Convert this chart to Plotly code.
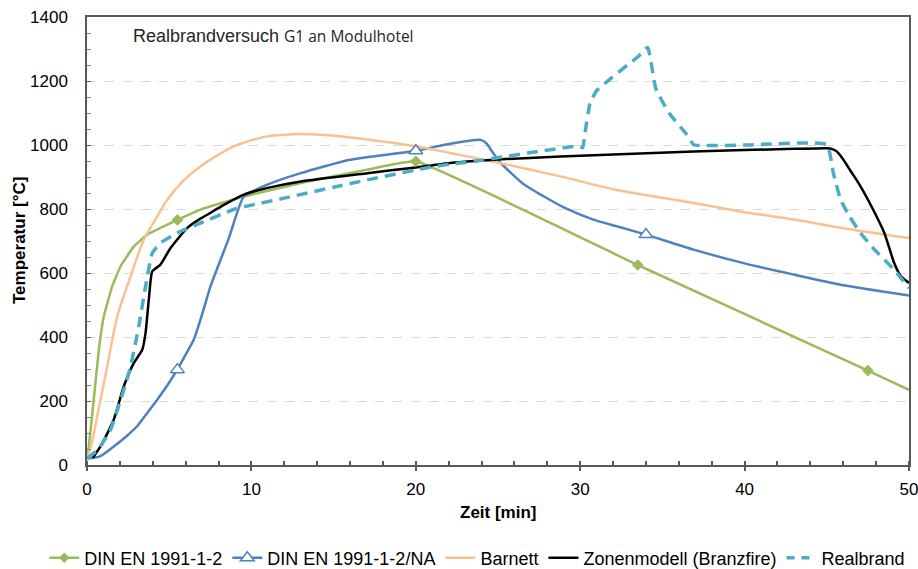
import plotly.graph_objects as go

# ---------------- data ----------------
t_din = [0, 0.11, 0.41, 0.72, 1.02, 1.53, 2.04, 2.85, 3.66, 4.67, 5.5, 6.9, 9.54, 13, 17.05, 20, 33.5, 47.5, 50]
T_din = [20, 58, 204, 360, 464, 558, 621, 683, 720, 746, 766, 798, 839, 881, 923, 949, 625, 295, 235]
t_din_mk = [5.5, 20, 33.5, 47.5]
T_din_mk = [766, 949, 625, 295]

t_na = [0, 0.8, 1.63, 2.4, 3.05, 3.7, 4.27, 4.9, 5.49, 6.0, 6.5, 7.0, 7.51, 8.63, 9.54, 10.97, 13, 16, 20, 22.1, 23.95, 24.3, 24.7, 25.16, 25.8, 26.5, 27.8, 29, 30.8, 32.5, 34, 36.9, 40, 43, 46, 50]
T_na = [20, 27, 58, 90, 121, 165, 204, 250, 298, 345, 392, 470, 558, 709, 839, 876, 912, 954, 982, 1004, 1016, 1005, 975, 944, 912, 880, 839, 805, 767, 742, 720, 673, 630, 595, 562, 530]
t_na_mk = [5.5, 20, 34]
T_na_mk = [298, 982, 720]

t_bar = [0, 0.3, 0.62, 1.23, 1.84, 2.65, 3.45, 4.2, 4.88, 5.9, 6.9, 8, 8.93, 10, 10.96, 12, 13, 15, 18, 20, 22.1, 25, 28.8, 32, 36.9, 40, 43, 46, 50]
T_bar = [20, 70, 152, 308, 464, 589, 704, 770, 829, 890, 933, 970, 996, 1015, 1027, 1032, 1034, 1029, 1011, 996, 975, 945, 902, 862, 819, 790, 767, 740, 709]

t_zone = [0.35, 0.82, 1.2, 1.63, 2.24, 2.85, 3.36, 3.56, 3.76, 3.97, 4.47, 5.08, 6.1, 6.9, 7.31, 8.3, 9.54, 11, 13, 17.05, 20, 22.1, 25, 28.8, 32, 36.9, 40, 43, 45.0, 45.3, 45.6, 46.0, 46.5, 47.05, 47.8, 48.5, 49.1, 49.5, 50]
T_zone = [22, 58, 95, 142, 246, 319, 360, 412, 517, 605, 626, 678, 741, 770, 782, 812, 845, 866, 886, 912, 930, 944, 955, 964, 970, 980, 984, 988, 990, 988, 980, 955, 915, 871, 800, 725, 631, 590, 569]

t_real = [0, 0.7, 1.43, 2.24, 2.65, 3.15, 3.56, 3.97, 4.47, 5.69, 6.9, 9.0, 12, 15, 17.05, 20, 21.1, 22.7, 24, 26.8, 29.8, 30.15, 30.3, 30.6, 31.0, 31.65, 32.9, 33.5, 34.1, 34.6, 35.4, 36.5, 36.9, 40, 45.0, 45.4, 45.84, 46.4, 47.05, 47.9, 49.1, 50]
T_real = [20, 50, 110, 235, 308, 433, 558, 662, 694, 730, 756, 800, 834, 868, 891, 922, 933, 944, 952, 975, 996, 992, 1040, 1131, 1170, 1199, 1251, 1275, 1305, 1176, 1100, 1032, 1001, 1000, 1001, 912, 829, 775, 725, 673, 610, 553]

names = ["DIN EN 1991-1-2", "DIN EN 1991-1-2/NA", "Barnett", "Zonenmodell (Branzfire)", "Realbrand"]
c_green, c_blue, c_orange, c_black, c_cyan = "#9BBB59", "#4F81BD", "#FAC090", "#000000", "#4BACC6"

FONT = "Liberation Sans, Arial, sans-serif"

fig = go.Figure()

# lines
fig.add_trace(go.Scatter(x=t_din, y=T_din, mode="lines",
                         line=dict(color=c_green, width=2.5, shape="spline", smoothing=0.3),
                         showlegend=False, hoverinfo="skip"))
fig.add_trace(go.Scatter(x=t_na, y=T_na, mode="lines",
                         line=dict(color=c_blue, width=2.5, shape="spline", smoothing=0.5),
                         showlegend=False, hoverinfo="skip"))
fig.add_trace(go.Scatter(x=t_bar, y=T_bar, mode="lines",
                         line=dict(color=c_orange, width=2.5, shape="spline", smoothing=0.8),
                         showlegend=False, hoverinfo="skip"))
fig.add_trace(go.Scatter(x=t_zone, y=T_zone, mode="lines",
                         line=dict(color=c_black, width=2.5, shape="spline", smoothing=0.5),
                         showlegend=False, hoverinfo="skip"))
fig.add_trace(go.Scatter(x=t_real, y=T_real, mode="lines",
                         line=dict(color=c_cyan, width=3.5, dash="11px,7px", shape="spline", smoothing=0.4),
                         showlegend=False, hoverinfo="skip"))
# markers
fig.add_trace(go.Scatter(x=t_din_mk, y=T_din_mk, mode="markers",
                         marker=dict(symbol="diamond", size=9, color=c_green), showlegend=False))
fig.add_trace(go.Scatter(x=t_na_mk, y=T_na_mk, mode="markers",
                         marker=dict(symbol="triangle-up", size=12, color="white", line=dict(color=c_blue, width=1.5)),
                         showlegend=False))

# legend entries
leg_styles = [
    dict(line=dict(color=c_green, width=2.5), marker=dict(symbol="diamond", size=8, color=c_green), mode="lines+markers"),
    dict(line=dict(color=c_blue, width=2.5), marker=dict(symbol="triangle-up", size=12, color="white", line=dict(color=c_blue, width=1.5)), mode="lines+markers"),
    dict(line=dict(color=c_orange, width=2.5), mode="lines"),
    dict(line=dict(color=c_black, width=2.5), mode="lines"),
    dict(line=dict(color=c_cyan, width=3.5, dash="8px,7px"), mode="lines"),
]
for nm, st in zip(names, leg_styles):
    fig.add_trace(go.Scatter(x=[None], y=[None], name=nm, showlegend=True, **st))

fig.update_layout(
    width=918, height=569,
    margin=dict(l=87, r=9, t=17, b=104, autoexpand=False),
    paper_bgcolor="white", plot_bgcolor="white",
    font=dict(family=FONT, size=17, color="#000000"),
    showlegend=True,
    legend=dict(orientation="h", x=-0.052, xanchor="left",
                y=-0.2076, yanchor="middle",
                font=dict(family=FONT, size=18, color="#000000"), itemwidth=30,
                bgcolor="rgba(0,0,0,0)"),
    xaxis=dict(range=[0, 50], dtick=10, tick0=0, showgrid=False, zeroline=False, automargin=False,
               showline=True, linecolor="#595959", linewidth=1.5, mirror=True,
               ticks="outside", ticklen=4, tickcolor="#595959", tickwidth=1.5,
               minor=dict(dtick=2, ticks="inside", ticklen=4, tickcolor="#595959", showgrid=False),
               tickfont=dict(family=FONT, size=17), ticklabelstandoff=4, ticklabeloverflow="allow"),
    yaxis=dict(range=[0, 1400], dtick=200, tick0=0, showgrid=True, gridcolor="#D9D9D9",
               griddash="dash", gridwidth=1, zeroline=False, automargin=False,
               showline=True, linecolor="#595959", linewidth=1.5, mirror=True,
               ticks="inside", ticklen=4, tickcolor="#595959",
               minor=dict(dtick=50, ticks="inside", ticklen=4, tickcolor="#7f7f7f", showgrid=False),
               tickfont=dict(family=FONT, size=17), ticklabelstandoff=14, ticklabeloverflow="allow"),
    annotations=[
        dict(text="<b>Zeit [min]</b>", xref="paper", yref="paper", x=0.5, y=-0.107,
             xanchor="center", yanchor="middle", showarrow=False, font=dict(family=FONT, size=17)),
        dict(text="<b>Temperatur [°C]</b>", xref="paper", yref="paper", x=-0.0827, y=0.5,
             xanchor="center", yanchor="middle", textangle=-90, showarrow=False, font=dict(family=FONT, size=17)),
        dict(text="Realbrandversuch <span style='font-family:Open Sans;font-size:15.5px'>G1 an Modulhotel</span>",
             xref="paper", yref="paper", x=0.054, y=0.958, xanchor="left", yanchor="middle",
             showarrow=False, font=dict(family=FONT, size=18, color="#262626")),
    ],
)

fig.write_html("out.html")
